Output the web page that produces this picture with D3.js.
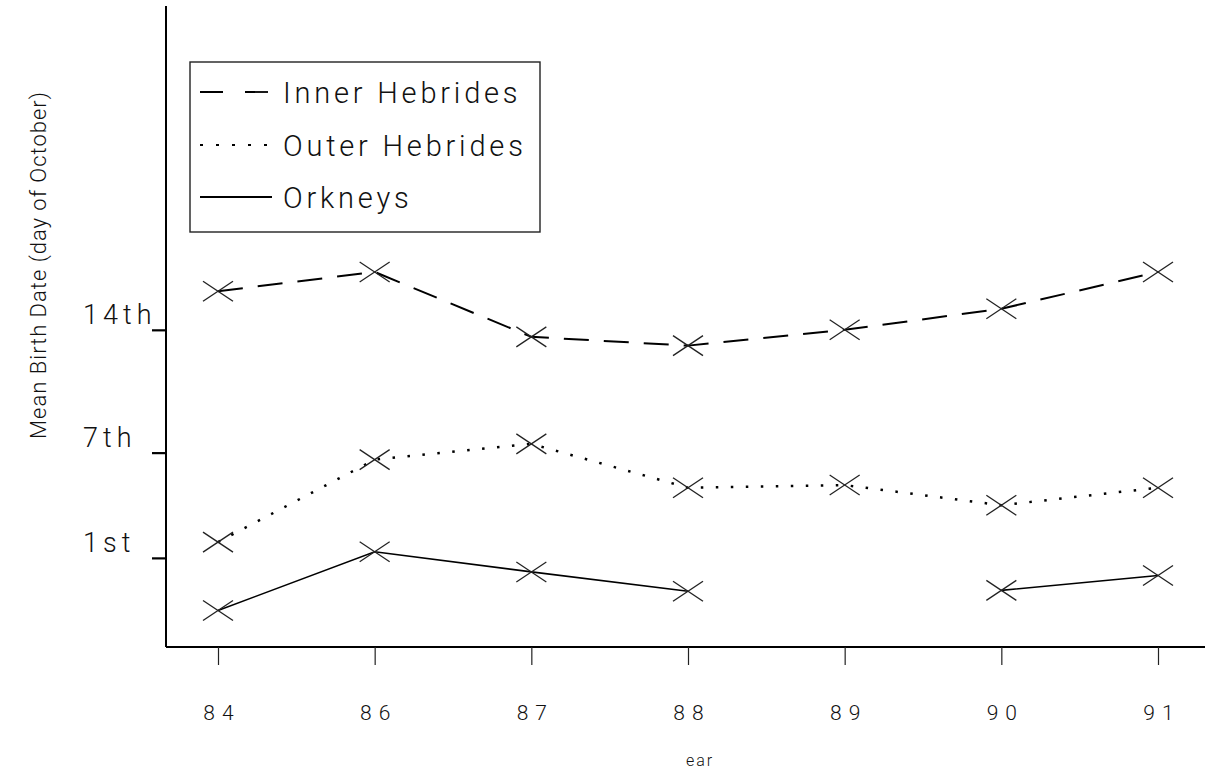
<!DOCTYPE html>
<html>
<head>
<meta charset="utf-8">
<script src="https://cdn.jsdelivr.net/npm/d3@7"></script>
<style>
  html, body { margin: 0; padding: 0; background: #fff; }
  svg { display: block; }
  text { font-family: "Roboto", "DejaVu Sans", sans-serif; font-weight: 300; fill: #111; }
</style>
</head>
<body>
<svg id="chart" width="1205" height="773"></svg>
<script>
// ---- data ----
const years = ["84", "86", "87", "88", "89", "90", "91"];
const seriesNames = ["Inner Hebrides", "Outer Hebrides", "Orkneys"];
const innerHebrides = [16.2, 17.3, 13.6, 13.1, 14.0, 15.2, 17.3];
const outerHebrides = [1.9, 6.6, 7.5, 5.0, 5.15, 4.0, 5.0];
const orkneys = [-2.0, 1.35, 0.2, -0.9, null, -0.85, 0.0];
const yTickValues = [1, 7, 14];
const yTickLabels = ["1st", "7th", "14th"];
const yTitle = "Mean Birth Date (day of October)";
const xTitle = "ear";

// ---- layout ----
const svg = d3.select("#chart");
const axisX0 = 166, axisX1 = 1205, axisY0 = 647, axisYTop = 6;

const x = d3.scalePoint().domain(years).range([218, 1158]);
const y = d3.scaleLinear().domain([-4.08, 32.46]).range([axisY0, axisYTop]);

// axes lines
svg.append("line").attr("x1", axisX0).attr("x2", axisX0)
  .attr("y1", axisYTop).attr("y2", axisY0)
  .attr("stroke", "#000").attr("stroke-width", 2);
svg.append("line").attr("x1", axisX0).attr("x2", axisX1)
  .attr("y1", axisY0).attr("y2", axisY0)
  .attr("stroke", "#000").attr("stroke-width", 1.8);

// y axis ticks
const yAxis = svg.append("g").attr("transform", `translate(${axisX0},0)`)
  .call(d3.axisLeft(y).tickValues(yTickValues).tickSize(14).tickSizeOuter(0)
    .tickFormat((d, i) => yTickLabels[i]));
yAxis.select(".domain").remove();
yAxis.selectAll(".tick line").attr("stroke", "#000").attr("stroke-width", 2.2);
yAxis.selectAll(".tick text")
  .attr("x", -83).attr("dy", "-0.22em")
  .attr("text-anchor", "start")
  .style("font-size", "27px").style("letter-spacing", "5px")
  .style("font-family", "Roboto, 'DejaVu Sans', sans-serif").style("font-weight", 300)
  .attr("fill", "#111");

// x axis ticks
const xAxis = svg.append("g").attr("transform", `translate(0,${axisY0})`)
  .call(d3.axisBottom(x).tickSize(18).tickSizeOuter(0).tickPadding(40));
xAxis.select(".domain").remove();
xAxis.selectAll(".tick line").attr("stroke", "#222").attr("stroke-width", 1.2);
xAxis.selectAll(".tick text")
  .style("font-size", "21px").style("letter-spacing", "7px")
  .style("font-family", "Roboto, 'DejaVu Sans', sans-serif").style("font-weight", 300)
  .attr("fill", (d) => d === "90" ? "#888" : "#333")
  .attr("dx", "3.5px");

// axis titles
svg.append("text")
  .attr("transform", `translate(40,265) rotate(-90)`)
  .attr("text-anchor", "middle").attr("dominant-baseline", "middle")
  .style("font-size", "22px").style("letter-spacing", "1px")
  .text(yTitle);
svg.append("text")
  .attr("x", 700).attr("y", 766).attr("text-anchor", "middle")
  .style("font-size", "16px").style("letter-spacing", "2px").attr("fill", "#777")
  .text(xTitle);

// ---- series ----
const seriesData = [innerHebrides, outerHebrides, orkneys];
const dashes = ["25,15", "2.5,12.5", null];
const widths = [2, 2.5, 1.6];

const line = d3.line()
  .defined(d => d.v !== null)
  .x(d => x(d.year)).y(d => y(d.v));

seriesData.forEach((vals, si) => {
  const pts = years.map((yr, i) => ({ year: yr, v: vals[i] }));
  svg.append("path").datum(pts)
    .attr("fill", "none").attr("stroke", "#000")
    .attr("stroke-width", widths[si])
    .attr("stroke-dasharray", dashes[si])
    .attr("d", line);
  // X markers
  const mk = svg.append("g").selectAll("g")
    .data(pts.filter(d => d.v !== null)).join("g")
    .attr("transform", d => `translate(${x(d.year)},${y(d.v)})`);
  mk.append("line").attr("x1", -15).attr("y1", -10).attr("x2", 15).attr("y2", 10)
    .attr("stroke", "#222").attr("stroke-width", 1.3);
  mk.append("line").attr("x1", -15).attr("y1", 10).attr("x2", 15).attr("y2", -10)
    .attr("stroke", "#222").attr("stroke-width", 1.3);
});

// ---- legend ----
const legend = svg.append("g");
legend.append("rect").attr("x", 190).attr("y", 62).attr("width", 350).attr("height", 170)
  .attr("fill", "none").attr("stroke", "#222").attr("stroke-width", 1.4);
const legendRows = [92, 145, 197];
const legendDash = ["23,22", "3,13", null];
seriesNames.forEach((name, i) => {
  legend.append("line").attr("x1", 200).attr("x2", 272)
    .attr("y1", legendRows[i]).attr("y2", legendRows[i])
    .attr("stroke", "#000").attr("stroke-width", i === 1 ? 2.2 : 1.8)
    .attr("stroke-dasharray", legendDash[i]);
  legend.append("text").attr("x", 283).attr("y", legendRows[i] + 11)
    .style("font-size", "29px").style("letter-spacing", "3.8px")
    .text(name);
});
</script>
</body>
</html>
